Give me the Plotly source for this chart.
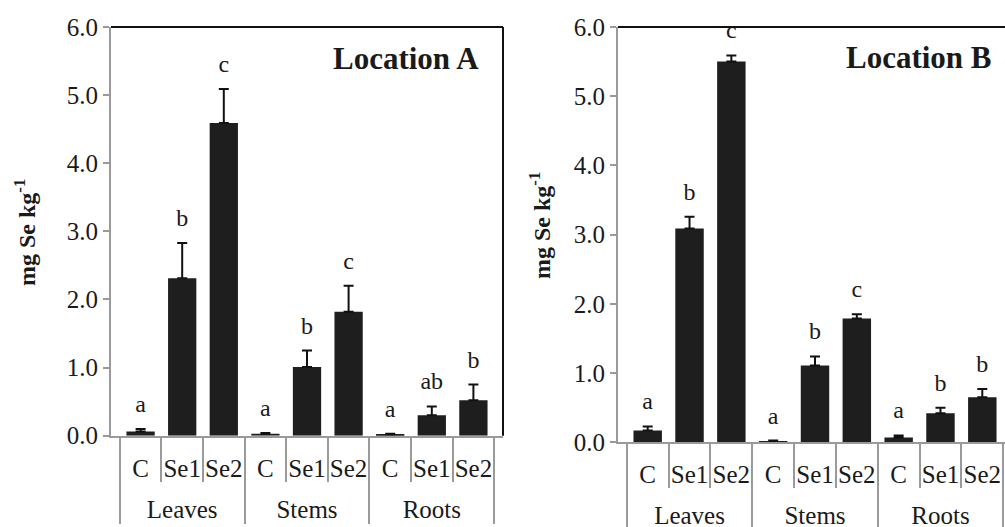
import plotly.graph_objects as go

# ---- data ----
organs = ["Leaves", "Stems", "Roots"]
treatments = ["C", "Se1", "Se2"]

loc_a_values = [0.06, 2.31, 4.59, 0.03, 1.01, 1.82, 0.02, 0.30, 0.52]
loc_a_errors = [0.04, 0.52, 0.50, 0.01, 0.24, 0.38, 0.01, 0.13, 0.23]
loc_a_letters = ["a", "b", "c", "a", "b", "c", "a", "ab", "b"]

loc_b_values = [0.17, 3.09, 5.50, 0.02, 1.11, 1.79, 0.07, 0.42, 0.65]
loc_b_errors = [0.06, 0.17, 0.09, 0.005, 0.13, 0.06, 0.03, 0.08, 0.12]
loc_b_letters = ["a", "b", "c", "a", "b", "c", "a", "b", "b"]

panel_titles = ["Location A", "Location B"]
y_title = "<b>mg Se kg<sup>-1</sup></b>"
y_ticks = [0, 1, 2, 3, 4, 5, 6]

# ---- styling ----
W, H = 1020, 527
SERIF = "Liberation Serif"
BAR = "#1e1e1e"
GRAY = "#9a9a9a"
TXT = "#1a1a1a"
# an invisible raised spacer line under each treatment label leaves room
# between the treatment row and the organ row
SPACER = "<br><sup>\u00a0</sup>"

x_groups = [g for g in organs for _ in treatments]
x_cats = [t + SPACER for _ in organs for t in treatments]
xmc = [x_groups, x_cats]

fig = go.Figure()

panels = [
    (loc_a_values, loc_a_errors, loc_a_letters, "x", "y"),
    (loc_b_values, loc_b_errors, loc_b_letters, "x2", "y2"),
]
for vals, errs, letters, xa, ya in panels:
    fig.add_trace(go.Bar(
        x=xmc, y=vals, xaxis=xa, yaxis=ya,
        marker=dict(color=BAR, line=dict(width=0)),
        error_y=dict(type="data", array=errs, arrayminus=[0] * len(errs),
                     symmetric=False, color="#111111", thickness=2, width=5),
        showlegend=False,
    ))
    fig.add_trace(go.Scatter(
        x=xmc, y=[v + e for v, e in zip(vals, errs)], xaxis=xa, yaxis=ya,
        mode="markers+text", text=letters, textposition="top center",
        marker=dict(size=16, color="rgba(0,0,0,0)"),
        textfont=dict(family=SERIF, size=24, color=TXT),
        showlegend=False, hoverinfo="skip",
    ))

def xaxis_style(domain):
    return dict(
        domain=domain, type="multicategory", tickangle=0,
        showline=True, linecolor=GRAY, linewidth=2,
        ticks="outside", tickson="boundaries", ticklen=44,
        tickcolor=GRAY, tickwidth=2,
        ticklabelstandoff=9,
        showdividers=True, dividercolor=GRAY, dividerwidth=2,
        tickfont=dict(family=SERIF, size=25, color=TXT),
        showgrid=False, zeroline=False, automargin=False,
    )

def yaxis_style(domain, anchor):
    return dict(
        domain=domain, anchor=anchor, range=[0, 6],
        tickvals=y_ticks, tickformat=".1f",
        showline=True, linecolor=GRAY, linewidth=2,
        ticks="outside", ticklen=6, tickcolor=GRAY, tickwidth=2,
        tickfont=dict(family=SERIF, size=25, color=TXT),
        showgrid=False, zeroline=False, automargin=False,
    )

fig.update_layout(
    width=W, height=H, autosize=False,
    margin=dict(l=0, r=0, t=0, b=0, pad=0),
    paper_bgcolor="white", plot_bgcolor="white",
    bargap=0.32,
    xaxis=dict(xaxis_style([111 / W, 503 / W]), anchor="y"),
    yaxis=yaxis_style([1 - 435.7 / H, 1 - 27 / H], "x"),
    xaxis2=dict(xaxis_style([618 / W, 1012 / W]), anchor="y2"),
    yaxis2=yaxis_style([1 - 442.3 / H, 1 - 27 / H], "x2"),
)

# frame: black top and right edges of each panel
for xr, yr in [("x domain", "y domain"), ("x2 domain", "y2 domain")]:
    fig.add_shape(type="line", xref=xr, yref=yr, x0=0, x1=1, y0=1, y1=1,
                  line=dict(color="#111111", width=2))
    fig.add_shape(type="line", xref=xr, yref=yr, x0=1, x1=1, y0=0, y1=1,
                  line=dict(color="#111111", width=2))

# panel titles
fig.add_annotation(text="<b>" + panel_titles[0] + "</b>", xref="paper", yref="paper",
                   x=481 / W, y=1 - 58 / H, xanchor="right", yanchor="middle",
                   showarrow=False, font=dict(family=SERIF, size=31, color=TXT))
fig.add_annotation(text="<b>" + panel_titles[1] + "</b>", xref="paper", yref="paper",
                   x=994 / W, y=1 - 57 / H, xanchor="right", yanchor="middle",
                   showarrow=False, font=dict(family=SERIF, size=31, color=TXT))

# y-axis titles
fig.add_annotation(text=y_title, xref="paper", yref="paper",
                   x=25 / W, y=1 - 233 / H, textangle=-90,
                   xanchor="center", yanchor="middle", showarrow=False,
                   font=dict(family=SERIF, size=24, color=TXT))
fig.add_annotation(text=y_title, xref="paper", yref="paper",
                   x=540 / W, y=1 - 226 / H, textangle=-90,
                   xanchor="center", yanchor="middle", showarrow=False,
                   font=dict(family=SERIF, size=24, color=TXT))

fig.write_html("out.html")
